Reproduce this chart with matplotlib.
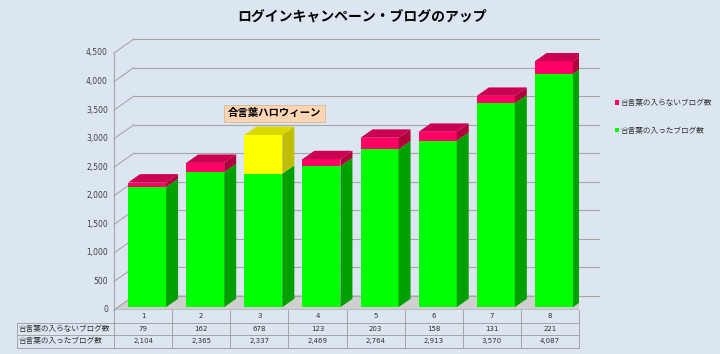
import matplotlib
matplotlib.use("Agg")
import matplotlib.pyplot as plt
from matplotlib.patches import Polygon, Patch

plt.rcParams["font.family"] = ["Noto Sans CJK JP", "DejaVu Sans"]

categories = ["1", "2", "3", "4", "5", "6", "7", "8"]
not_in = [79, 162, 678, 123, 203, 158, 131, 221]
entered = [2104, 2365, 2337, 2469, 2764, 2913, 3570, 4087]
not_in_labels = ["79", "162", "678", "123", "203", "158", "131", "221"]
entered_labels = ["2,104", "2,365", "2,337", "2,469", "2,764", "2,913", "3,570", "4,087"]
series_names = ["合言葉の入らないブログ数", "合言葉の入ったブログ数"]
yticks = [0, 500, 1000, 1500, 2000, 2500, 3000, 3500, 4000, 4500]
title = "ログインキャンペーン・ブログのアップ"
callout = "合言葉ハロウィーン"
highlight = 2  # index of the highlighted (yellow) category

bg = "#dce6f1"
W, H = 720, 354
fig = plt.figure(figsize=(7.2, 3.54), dpi=100, facecolor=bg)

# plot area in pixels: front floor x 114..579, zero at y=310, 4500 at y=53
ax = fig.add_axes([114 / W, (H - 310) / H, 465 / W, 257 / H])
ax.set_xlim(0.5, 8.5)
ax.set_ylim(0, 4500)
ax.axis("off")

pxx = 465 / 8          # px per category
pxy = 257 / 4500       # px per value unit
DX = 20 / pxx          # wall depth in data units
DY = 14 / pxy
d0, d1 = 0.2, 0.8      # bar depth within wall
grid_c = "#a6a6a6"

# walls / gridlines
for t in yticks:
    ax.plot([0.5, 0.5 + DX], [t, t + DY], color=grid_c, lw=0.8, clip_on=False)
    ax.plot([0.5 + DX, 8.5 + DX], [t + DY, t + DY], color=grid_c, lw=0.8, clip_on=False)
    ax.text(0.5 - 6 / pxx, t, f"{t:,}", ha="right", va="center", fontsize=5.5,
            color="#404040", family=["DejaVu Sans"])
ax.plot([0.5, 0.5], [0, 4500], color=grid_c, lw=0.8, clip_on=False)

# floor
ax.add_patch(Polygon([(0.5, 0), (8.5, 0), (8.5 + DX, DY), (0.5 + DX, DY)],
                     closed=True, facecolor="#cfcfcf", edgecolor="#a0a0a0", lw=0.6, zorder=1))

w = 38 / pxx
xs = [i + 1 for i in range(len(categories))]
bdx, bdy = (d1 - d0) * DX, (d1 - d0) * DY


def box(xc, y0, y1, front, side, top=None):
    xl = xc - w / 2 + d0 * DX
    xr = xc + w / 2 + d0 * DX
    b0, b1 = y0 + d0 * DY, y1 + d0 * DY
    ax.bar(xc + d0 * DX, y1 - y0, width=w, bottom=b0, color=front, lw=0, zorder=3)
    ax.add_patch(Polygon([(xr, b0), (xr + bdx, b0 + bdy), (xr + bdx, b1 + bdy), (xr, b1)],
                         closed=True, facecolor=side, lw=0, zorder=3))
    if top:
        ax.add_patch(Polygon([(xl, b1), (xr, b1), (xr + bdx, b1 + bdy), (xl + bdx, b1 + bdy)],
                             closed=True, facecolor=top, lw=0, zorder=3))


for i, x in enumerate(xs):
    box(x, 0, entered[i], "#00ff00", "#00a000")
    if i == highlight:
        box(x, entered[i], entered[i] + not_in[i], "#ffff00", "#bfbf00", "#d9d900")
    else:
        box(x, entered[i], entered[i] + not_in[i], "#ff0066", "#b0003c", "#cc0050")

# callout above the highlighted bar
ax.text(xs[highlight] + 0.26, entered[highlight] + not_in[highlight] + 430, callout,
        ha="center", va="center", fontsize=7.5, fontweight="bold", zorder=5,
        bbox=dict(boxstyle="square,pad=0.35", facecolor="#fcd5b4", edgecolor="#e0b890", lw=0.6))

# data table
tr = ax.get_xaxis_transform()


def fy(py):
    return (310 - py) / 257


x_hdr = 0.5 + (17 - 114) / pxx
tc = "#9a9a9a"
for xb in [0.5 + k for k in range(9)]:
    ax.plot([xb, xb], [fy(310), fy(348)], color=tc, lw=0.6, transform=tr, clip_on=False)
ax.plot([x_hdr, x_hdr], [fy(323), fy(348)], color=tc, lw=0.6, transform=tr, clip_on=False)
for ry in [323, 335, 348]:
    ax.plot([x_hdr, 8.5], [fy(ry), fy(ry)], color=tc, lw=0.6, transform=tr, clip_on=False)

for i, x in enumerate(xs):
    ax.text(x, fy(316.5), categories[i], ha="center", va="center", fontsize=5, transform=tr,
            color="#303030", family=["DejaVu Sans"])
    ax.text(x, fy(329), not_in_labels[i], ha="center", va="center", fontsize=5, transform=tr,
            color="#303030", family=["DejaVu Sans"])
    ax.text(x, fy(341.5), entered_labels[i], ha="center", va="center", fontsize=5, transform=tr,
            color="#303030", family=["DejaVu Sans"])
ax.text(x_hdr + 2 / pxx, fy(329), series_names[0], ha="left", va="center", fontsize=5.5,
        transform=tr, color="#303030")
ax.text(x_hdr + 2 / pxx, fy(341.5), series_names[1], ha="left", va="center", fontsize=5.5,
        transform=tr, color="#303030")

# legend
handles = [Patch(facecolor="#ff0066", edgecolor="none"), Patch(facecolor="#00ff00", edgecolor="none")]
fig.legend(handles, series_names, loc="upper left", bbox_to_anchor=(608 / W, 1 - 92 / H),
           frameon=False, fontsize=5.5, handlelength=0.6, handleheight=0.6, handletextpad=0.2,
           labelspacing=2.6, labelcolor="#303030")

fig.text(362 / W, 1 - 17 / H, title, ha="center", va="center", fontsize=10, fontweight="bold")

fig.savefig("out.png", dpi=100, facecolor=bg)
